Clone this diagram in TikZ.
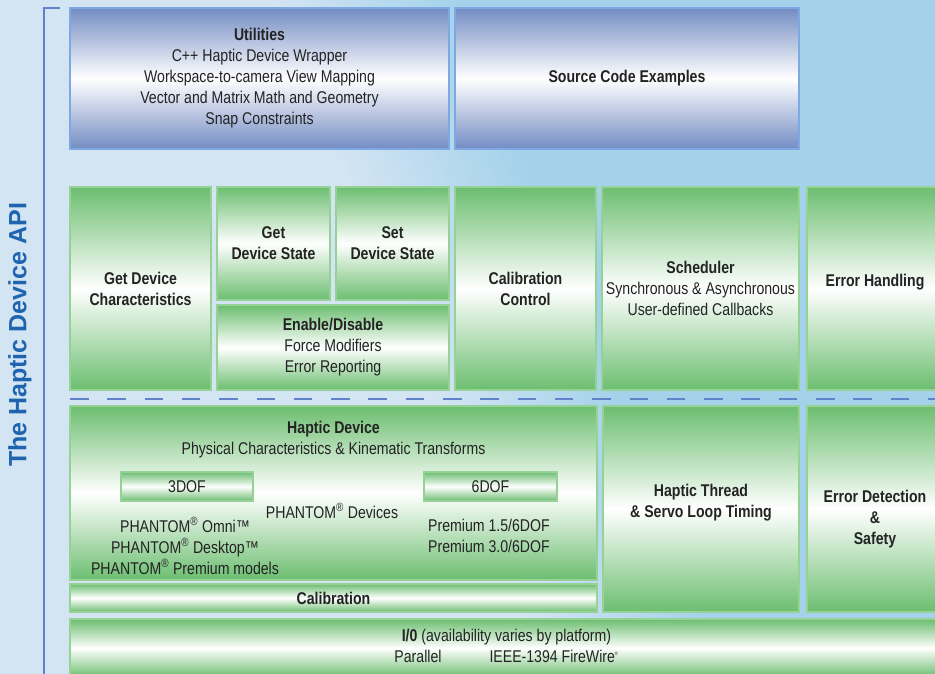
\documentclass[tikz,border=0pt]{standalone}
\usepackage{fontspec}
\setmainfont{Liberation Sans}[FakeStretch=0.83]
\newfontfamily\apifont{Liberation Sans}
\usetikzlibrary{positioning}

\definecolor{gtop}{RGB}{108,190,112}
\definecolor{gborder}{RGB}{150,210,150}
\definecolor{btop}{RGB}{115,140,195}
\definecolor{bborder}{RGB}{125,168,225}
\definecolor{txt}{RGB}{35,35,35}
\definecolor{apiblue}{RGB}{30,100,175}
\definecolor{rule}{RGB}{95,130,200}
\definecolor{bgl}{RGB}{211,228,243}
\definecolor{bgc}{RGB}{163,210,234}
\definecolor{bgs}{RGB}{205,225,240}

\pgfdeclarehorizontalshading{backdrop}{100bp}{color(0bp)=(bgl); color(47bp)=(bgl); color(57bp)=(bgc); color(84bp)=(bgc); color(90bp)=(bgs); color(95bp)=(bgc); color(100bp)=(bgc)}

\begin{document}
\begin{tikzpicture}[
		x=1pt, y=-1pt,
		every node/.style={text=txt, inner sep=2pt, align=center, font=\fontsize{17}{21}\selectfont},
		sized/.style 2 args={minimum width=#1, minimum height=#2},
		gbox/.style={draw=gborder, line width=1.2pt, top color=gtop, bottom color=gtop, middle color=white},
		bbox/.style={draw=bborder, line width=1.2pt, top color=btop, bottom color=btop, middle color=white},
		head/.style={font=\fontsize{17}{21}\selectfont\bfseries}
		]

		\useasboundingbox (0,0) rectangle (935,673);
		\clip (0,0) rectangle (935,673);
		\shade[shading=backdrop, shading angle=22] (0,0) rectangle (935,673);

		% Title and bracket
		\node[rotate=90, text=apiblue, font=\apifont\fontsize{25}{30}\selectfont\bfseries] (api) at (20,335) {The Haptic Device API};
		\coordinate (brtop) at (60,8);
		\coordinate (brcorner) at (44,8);
		\coordinate (brend) at (44,680);
		\draw[rule, line width=2pt] (brtop) -- (brcorner) -- (brend);

		% Top row
		\node[bbox, sized={379}{141}] (util) at (259.5,78.5) {\textbf{Utilities}\\C++ Haptic Device Wrapper\\Workspace-to-camera View Mapping\\Vector and Matrix Math and Geometry\\Snap Constraints};
		\node[bbox, sized={344}{141}, head] (examples) at (627,78.5) {Source Code Examples};

		% Middle row
		\node[gbox, sized={141}{203}, head] (devchar) at (140.5,288.5) {Get Device\\Characteristics};
		\node[gbox, sized={113}{113}, head] (getstate) at (273.5,243.5) {Get\\Device State};
		\node[gbox, sized={113}{113}, head] (setstate) at (392.5,243.5) {Set\\Device State};
		\node[gbox, sized={232}{85}] (enable) at (333,347.5) {\textbf{Enable/Disable}\\Force Modifiers\\Error Reporting};
		\node[gbox, sized={141}{203}, head] (calctrl) at (525.5,288.5) {Calibration\\Control};
		\node[gbox, sized={197}{203}] (sched) at (700.5,288.5) {\textbf{Scheduler}\\Synchronous \& Asynchronous\\User-defined Callbacks};
		\node[gbox, sized={136}{203}] (errhand) at (875,288.5) {};
		\node[head] (errhandtext) at ([yshift=6pt]errhand.center) {Error Handling};

		% Separator
		\coordinate (sepL) at (70,399);
		\coordinate (sepR) at (940,399);
		\draw[rule, line width=2pt, dash pattern=on 18.5pt off 18.8pt] (sepL) -- (sepR);

		% Bottom row
		\node[gbox, sized={527}{174}] (device) at (333.5,493) {};
		\node (devtitle) at ([yshift=-34pt]device.north) {\textbf{Haptic Device}\\Physical Characteristics \& Kinematic Transforms};
		\node[gbox, sized={132}{29}] (dof3) at (187,486.5) {3DOF};
		\node[gbox, sized={133}{29}] (dof6) at (490.5,486.5) {6DOF};
		\node (phantom) at (332,511) {PHANTOM\textsuperscript{®} Devices};
		\node (models3) at (185,546) {PHANTOM\textsuperscript{®} Omni™\\PHANTOM\textsuperscript{®} Desktop™\\PHANTOM\textsuperscript{®} Premium models};
		\node (models6) at (489,535.5) {Premium 1.5/6DOF\\Premium 3.0/6DOF};
		\node[gbox, sized={527}{28}, head] (calib) at (333.5,598) {Calibration};
		\node[gbox, sized={196}{206}] (thread) at (701,509) {};
		\node[head] (threadtext) at ([yshift=6pt]thread.center) {Haptic Thread\\\& Servo Loop Timing};
		\node[gbox, sized={136}{206}] (errdet) at (875,509) {};
		\node[head] (errdettext) at ([yshift=-10pt]errdet.center) {Error Detection\\\&\\Safety};
		\node[gbox, sized={873}{58}] (io) at (506.5,648) {};
		\node (iotext) at ([yshift=2.5pt]io.center) {\textbf{I/0} (availability varies by platform)\\Parallel\hspace{48pt}IEEE-1394 FireWire\textsuperscript{\tiny ®}};

	\end{tikzpicture}
\end{document}
